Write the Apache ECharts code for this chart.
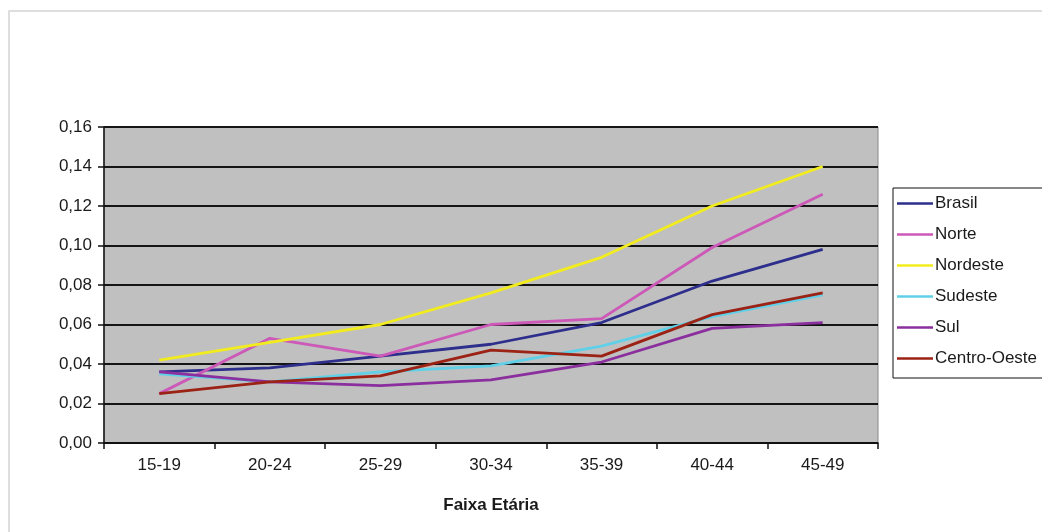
<!DOCTYPE html>
<html>
<head>
<meta charset="utf-8">
<script src="https://cdn.jsdelivr.net/npm/echarts@6/dist/echarts.min.js"></script>
<style>
html,body{margin:0;padding:0;background:#fff;}
#chart{width:1042px;height:532px;}
</style>
</head>
<body>
<div id="chart"></div>
<script>
const categories = ['15-19','20-24','25-29','30-34','35-39','40-44','45-49'];
const yTickLabels = ['0,00','0,02','0,04','0,06','0,08','0,10','0,12','0,14','0,16'];
const seriesNames = ['Brasil','Norte','Nordeste','Sudeste','Sul','Centro-Oeste'];
const brasil      = [0.036, 0.038, 0.044, 0.050, 0.061, 0.082, 0.098];
const norte       = [0.025, 0.053, 0.044, 0.060, 0.063, 0.099, 0.126];
const nordeste    = [0.042, 0.051, 0.060, 0.076, 0.094, 0.120, 0.140];
const sudeste     = [0.035, 0.031, 0.036, 0.039, 0.049, 0.064, 0.075];
const sul         = [0.036, 0.031, 0.029, 0.032, 0.041, 0.058, 0.061];
const centroOeste = [0.025, 0.031, 0.034, 0.047, 0.044, 0.065, 0.076];
const colors = ['#2e2e8c','#cc58b8','#f2ec1e','#60d0e8','#8b2f9e','#9b2214'];

const allData = [brasil, norte, nordeste, sudeste, sul, centroOeste];
const font = '"Liberation Sans", Arial, sans-serif';

const chart = echarts.init(document.getElementById('chart'), null, {renderer:'canvas'});
chart.setOption({
  animation: false,
  backgroundColor: '#ffffff',
  graphic: [{
    type: 'rect',
    shape: {x: 9, y: 11, width: 1200, height: 700},
    style: {fill: 'none', stroke: '#d4d4d4', lineWidth: 1.5},
    silent: true, z: -10
  }],
  grid: {
    left: 104, right: 164, top: 127, bottom: 89,
    show: true, backgroundColor: '#c0c0c0', borderColor: '#8a8a8a', borderWidth: 1
  },
  legend: {
    orient: 'vertical',
    left: 893, top: 188,
    padding: [7, 8, 11, 4],
    borderColor: '#111', borderWidth: 1,
    backgroundColor: '#ffffff',
    icon: 'rect',
    itemWidth: 36, itemHeight: 2.5,
    itemGap: 14,
    textStyle: {fontFamily: font, fontSize: 17, color: '#1a1a1a', padding: [0,0,0,-3], lineHeight: 17},
    data: seriesNames
  },
  xAxis: {
    type: 'category',
    data: categories,
    boundaryGap: true,
    name: 'Faixa Etária',
    nameLocation: 'middle',
    nameGap: 54,
    nameTextStyle: {fontFamily: font, fontSize: 17, fontWeight: 'bold', color: '#1a1a1a'},
    axisLine: {show: true, lineStyle: {color: '#111', width: 1.5}},
    axisTick: {show: true, alignWithLabel: false, length: 6, lineStyle: {color: '#111', width: 1.5}},
    axisLabel: {fontFamily: font, fontSize: 17, color: '#1a1a1a', margin: 14},
    splitLine: {show: false}
  },
  yAxis: {
    type: 'value',
    min: 0, max: 0.16, interval: 0.02,
    axisLine: {show: true, lineStyle: {color: '#111', width: 1.5}},
    axisTick: {show: true, length: 6, lineStyle: {color: '#111', width: 1.5}},
    axisLabel: {
      fontFamily: font, fontSize: 17, color: '#1a1a1a', margin: 12,
      formatter: v => yTickLabels[Math.round(v / 0.02)]
    },
    splitLine: {show: true, lineStyle: {color: '#151515', width: 2}}
  },
  series: seriesNames.map((n, i) => ({
    name: n,
    type: 'line',
    data: allData[i],
    symbol: 'none',
    smooth: false,
    lineStyle: {color: colors[i], width: 2.8},
    itemStyle: {color: colors[i]}
  }))
});
</script>
</body>
</html>
